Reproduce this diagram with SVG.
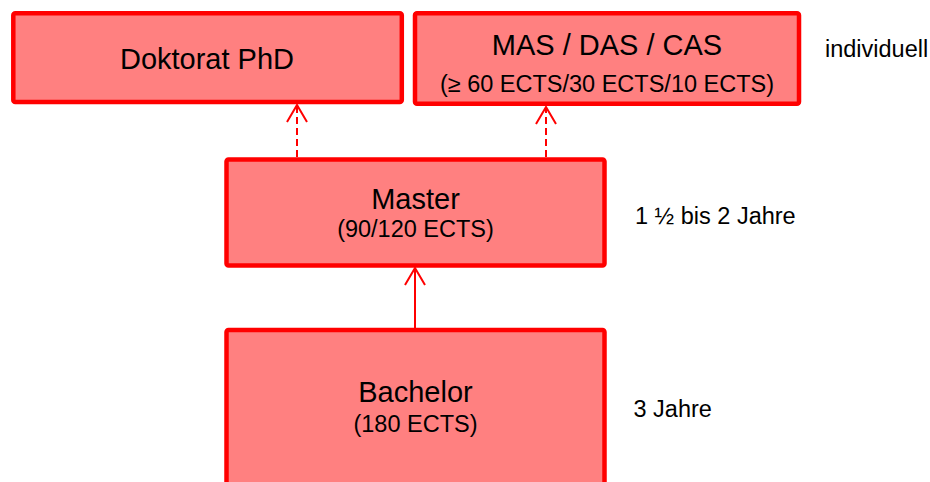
<svg xmlns="http://www.w3.org/2000/svg" width="930" height="482" viewBox="0 0 930 482">
  <style>
    .box { fill: #FF8080; stroke: #FF0000; stroke-width: 4.5; }
    .t { font-family: "Liberation Sans", Arial, sans-serif; fill: #000; text-anchor: middle; }
    .h { font-size: 29px; }
    .s { font-size: 23.5px; }
    .side { font-family: "Liberation Sans", Arial, sans-serif; fill: #000; font-size: 23.5px; }
    .conn { stroke: #FF0000; stroke-width: 2; fill: none; }
    .dash { stroke-dasharray: 7 4; }
  </style>
  <defs>
    <marker id="open" markerUnits="userSpaceOnUse" markerWidth="40" markerHeight="40" viewBox="-20 -20 40 40" refX="0" refY="0" orient="auto" overflow="visible">
      <path d="M -17 -10 L 0 0 L -17 10" fill="none" stroke="#FF0000" stroke-width="2"/>
    </marker>
  </defs>
  <rect width="930" height="482" fill="#FFFFFF"/>

  <g id="connectors">
    <line class="conn dash" x1="297" y1="157" x2="297" y2="105" marker-end="url(#open)"/>
    <line class="conn dash" x1="546" y1="157" x2="546" y2="107" marker-end="url(#open)"/>
    <line class="conn" x1="415" y1="328" x2="415" y2="268" marker-end="url(#open)"/>
  </g>

  <g id="doktorat">
    <rect class="box" x="13.3" y="13.3" width="388.5" height="88.7" rx="2"/>
    <text class="t h" x="207" y="69">Doktorat PhD</text>
  </g>

  <g id="mas">
    <rect class="box" x="415" y="13.3" width="384" height="90.5" rx="2"/>
    <text class="t h" x="607" y="55">MAS / DAS / CAS</text>
    <text class="t s" x="607" y="92">(≥ 60 ECTS/30 ECTS/10 ECTS)</text>
  </g>

  <g id="master">
    <rect class="box" x="226.5" y="159.5" width="378" height="106" rx="2"/>
    <text class="t h" x="415.5" y="209">Master</text>
    <text class="t s" x="415.5" y="237">(90/120 ECTS)</text>
  </g>

  <g id="bachelor">
    <rect class="box" x="226.5" y="330" width="378" height="170" rx="2"/>
    <text class="t h" x="415.5" y="402">Bachelor</text>
    <text class="t s" x="415.5" y="432">(180 ECTS)</text>
  </g>

  <g id="labels">
    <text class="side" x="825" y="56.5">individuell</text>
    <text class="side" x="635" y="224.3">1 ½ bis 2 Jahre</text>
    <text class="side" x="633.5" y="416.7">3 Jahre</text>
  </g>
</svg>
